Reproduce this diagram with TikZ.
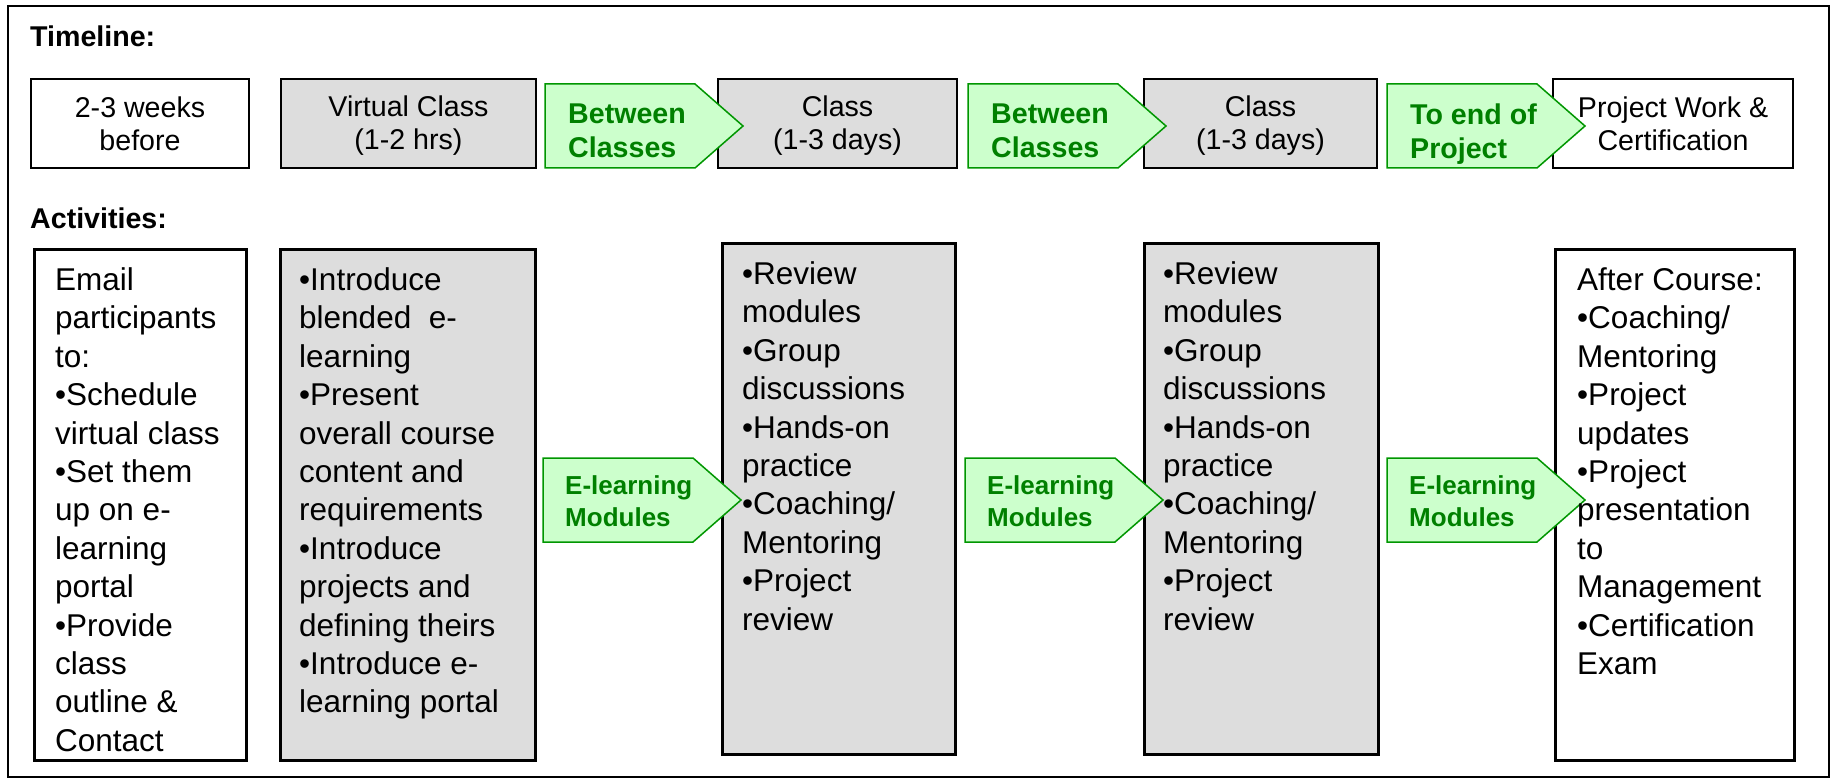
\documentclass[tikz,border=0pt]{standalone}
\usepackage{fontspec}
\setmainfont{Liberation Sans}
\usetikzlibrary{positioning}

\definecolor{boxgray}{RGB}{221,221,221}
\definecolor{stepfill}{RGB}{204,255,204}
\definecolor{stepline}{RGB}{0,150,0}
\definecolor{steptext}{RGB}{0,128,0}

\begin{document}
\begin{tikzpicture}[x=1pt, y=-1pt,
	every node/.style={inner sep=0pt},
	heading/.style={anchor=base west, font=\bfseries\fontsize{28.6}{33}\selectfont},
	timebox/.style={draw, line width=2.5pt, minimum width=#1, minimum height=89pt},
	timetext/.style={align=center, font=\fontsize{28.6}{33}\selectfont},
	actbox/.style={draw, line width=2.5pt, anchor=north west, minimum width=#1, minimum height=511pt},
	acttext/.style={anchor=north west, align=left, font=\fontsize{31.5}{38.4}\selectfont},
	stepshape/.style={draw=stepline, line width=1.5pt, fill=stepfill},
	steplabel/.style={anchor=north west, align=left, text=steptext, font=\bfseries\fontsize{28.6}{34}\selectfont},
	modlabel/.style={anchor=north west, align=left, text=steptext, font=\bfseries\fontsize{26}{32}\selectfont}
	]

	\useasboundingbox (0,0) rectangle (1830,778);
	\draw[line width=2pt] (8,6) rectangle (1828.5,776.5);

	\node[heading] (timeline) at (30,47) {Timeline:};
	\node[heading] (activities) at (30,229) {Activities:};

	% timeline boxes
	\node[timebox=218] (tPre) at (140,123.5) {};
	\node[timebox=255, fill=boxgray] (tVirtual) at (408.5,123.5) {};
	\node[timebox=239, fill=boxgray] (tClassA) at (837.5,123.5) {};
	\node[timebox=233, fill=boxgray] (tClassB) at (1260.5,123.5) {};
	\node[timebox=240] (tProject) at (1673,123.5) {};

	% activity boxes
	\node[actbox=212] (aPre) at (33,248) {};
	\node[actbox=255, fill=boxgray] (aVirtual) at (279,248) {};
	\node[actbox=233, fill=boxgray] (aClassA) at (721,242) {};
	\node[actbox=234, fill=boxgray] (aClassB) at (1143,242) {};
	\node[actbox=239] (aProject) at (1554,248) {};

	% green step arrows, drawn over the box edges
	\foreach \x/\y in {545/84, 968/84, 1387/84, 543/458, 965/458, 1387/458}
		\draw[stepshape] (\x,\y) -- ++(150,0) -- ++(48,42) -- ++(-48,42) -- ++(-150,0) -- cycle;

	\node[steplabel] (gapA) at (568,104) {Between\\Classes};
	\node[steplabel] (gapB) at (991,104) {Between\\Classes};
	\node[steplabel] (gapC) at (1410,104) {To end of\\Project};

	\node[modlabel] (modA) at (565,475) {E-learning\\Modules};
	\node[modlabel] (modB) at (987,475) {E-learning\\Modules};
	\node[modlabel] (modC) at (1409,475) {E-learning\\Modules};

	% texts on top
	\node[timetext] (tPreText) at (tPre) {2-3 weeks\\before};
	\node[timetext] (tVirtualText) at ([yshift=-2pt]tVirtual) {Virtual Class\\(1-2 hrs)};
	\node[timetext] (tClassAText) at ([yshift=-2pt]tClassA) {Class\\(1-3 days)};
	\node[timetext] (tClassBText) at ([yshift=-2pt]tClassB) {Class\\(1-3 days)};
	\node[timetext] (tProjectText) at (tProject) {Project Work \&\\Certification};

	\node[acttext] (aPreText) at ([shift={(22,19.5)}]aPre.north west)
		{Email\\participants\\to:\\•Schedule\\virtual class\\•Set them\\up on e-\\learning\\portal\\•Provide\\class\\outline \&\\Contact};
	\node[acttext] (aVirtualText) at ([shift={(20,19.5)}]aVirtual.north west)
		{•Introduce\\blended\ \ e-\\learning\\•Present\\overall course\\content and\\requirements\\•Introduce\\projects and\\defining theirs\\•Introduce e-\\learning portal};
	\node[acttext] (aClassAText) at ([shift={(21,19.5)}]aClassA.north west)
		{•Review\\modules\\•Group\\discussions\\•Hands-on\\practice\\•Coaching/\\Mentoring\\•Project\\review};
	\node[acttext] (aClassBText) at ([shift={(20,19.5)}]aClassB.north west)
		{•Review\\modules\\•Group\\discussions\\•Hands-on\\practice\\•Coaching/\\Mentoring\\•Project\\review};
	\node[acttext] (aProjectText) at ([shift={(23,19.5)}]aProject.north west)
		{After Course:\\•Coaching/\\Mentoring\\•Project\\updates\\•Project\\presentation\\to\\Management\\•Certification\\Exam};

\end{tikzpicture}
\end{document}
